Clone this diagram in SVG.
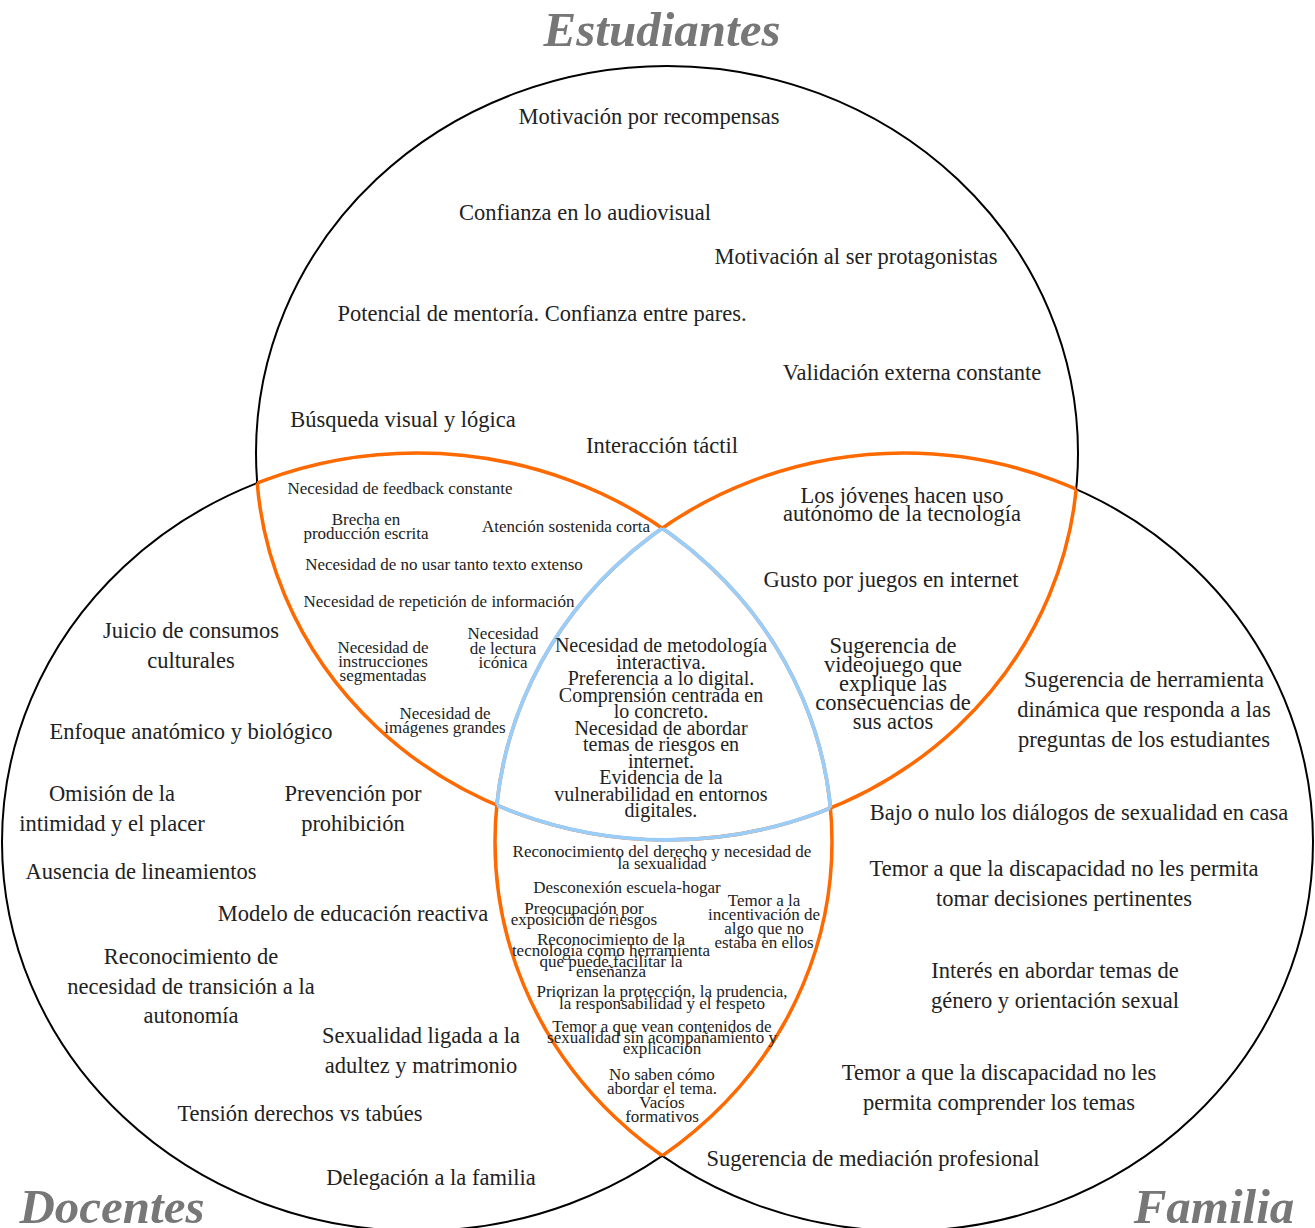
<svg xmlns="http://www.w3.org/2000/svg" xmlns:xlink="http://www.w3.org/1999/xlink" width="1315" height="1228" viewBox="0 0 1315 1228">
<style>
text { font-family: "Liberation Serif", "Times New Roman", serif; fill: #222; text-anchor: middle; }
.l { font-size: 22.5px; }
.s { font-size: 17px; }
.c { font-size: 20px; }
.title { font-size: 49px; font-weight: bold; font-style: italic; fill: #777; }
.k { fill: none; stroke: #000; stroke-width: 2; }
.or { fill: none; stroke: #ff6a00; stroke-width: 3.5; }
.bl { fill: none; stroke: #99cdfa; stroke-width: 3.8; }
</style>
<defs>
<ellipse id="eT" cx="667" cy="453" rx="411" ry="387"/>
<ellipse id="eL" cx="417" cy="842" rx="415" ry="389"/>
<ellipse id="eR" cx="904" cy="842" rx="409" ry="389"/>
<clipPath id="cT"><ellipse cx="667" cy="453" rx="411" ry="387"/></clipPath>
<clipPath id="cL"><ellipse cx="417" cy="842" rx="415" ry="389"/></clipPath>
<clipPath id="cR"><ellipse cx="904" cy="842" rx="409" ry="389"/></clipPath>
<clipPath id="cLR"><ellipse cx="417" cy="842" rx="415" ry="389"/><ellipse cx="904" cy="842" rx="409" ry="389"/></clipPath>
<clipPath id="cTR"><ellipse cx="667" cy="453" rx="411" ry="387"/><ellipse cx="904" cy="842" rx="409" ry="389"/></clipPath>
<clipPath id="cTL"><ellipse cx="667" cy="453" rx="411" ry="387"/><ellipse cx="417" cy="842" rx="415" ry="389"/></clipPath>
</defs>
<rect width="1315" height="1228" fill="#fff"/>
<g id="connectors">
<use xlink:href="#eT" href="#eT" class="k"/>
<use xlink:href="#eL" href="#eL" class="k"/>
<use xlink:href="#eR" href="#eR" class="k"/>
<g clip-path="url(#cLR)"><use xlink:href="#eT" href="#eT" class="or"/></g>
<g clip-path="url(#cTR)"><use xlink:href="#eL" href="#eL" class="or"/></g>
<g clip-path="url(#cTL)"><use xlink:href="#eR" href="#eR" class="or"/></g>
<g clip-path="url(#cL)"><g clip-path="url(#cR)"><use xlink:href="#eT" href="#eT" class="bl"/></g></g>
<g clip-path="url(#cT)"><g clip-path="url(#cR)"><use xlink:href="#eL" href="#eL" class="bl"/></g></g>
<g clip-path="url(#cT)"><g clip-path="url(#cL)"><use xlink:href="#eR" href="#eR" class="bl"/></g></g>
</g>
<g id="titles">
<text class="title" x="662" y="46">Estudiantes</text>
<text class="title" x="112" y="1223">Docentes</text>
<text class="title" x="1214" y="1223">Familia</text>
</g>
<g id="estudiantes" class="l">
<text x="649" y="124">Motivación por recompensas</text>
<text x="585" y="220">Confianza en lo audiovisual</text>
<text x="856" y="264">Motivación al ser protagonistas</text>
<text x="542" y="321">Potencial de mentoría. Confianza entre pares.</text>
<text x="912" y="380">Validación externa constante</text>
<text x="403" y="427">Búsqueda visual y lógica</text>
<text x="662" y="453">Interacción táctil</text>
</g>
<g id="estudiantes-docentes" class="s">
<text x="400" y="494">Necesidad de feedback constante</text>
<text x="366" y="525">Brecha en</text>
<text x="366" y="539">producción escrita</text>
<text x="566" y="532">Atención sostenida corta</text>
<text x="444" y="570">Necesidad de no usar tanto texto extenso</text>
<text x="439" y="607">Necesidad de repetición de información</text>
<text x="383" y="653">Necesidad de</text>
<text x="383" y="667">instrucciones</text>
<text x="383" y="681">segmentadas</text>
<text x="503" y="639">Necesidad</text>
<text x="503" y="654">de lectura</text>
<text x="503" y="668">icónica</text>
<text x="445" y="719">Necesidad de</text>
<text x="445" y="733">imágenes grandes</text>
</g>
<g id="centro" class="c">
<text x="661" y="652">Necesidad de metodología</text>
<text x="661" y="668.5">interactiva.</text>
<text x="661" y="685">Preferencia a lo digital.</text>
<text x="661" y="701.5">Comprensión centrada en</text>
<text x="661" y="718">lo concreto.</text>
<text x="661" y="734.5">Necesidad de abordar</text>
<text x="661" y="751">temas de riesgos en</text>
<text x="661" y="767.5">internet.</text>
<text x="661" y="784">Evidencia de la</text>
<text x="661" y="800.5">vulnerabilidad en entornos</text>
<text x="661" y="817">digitales.</text>
</g>
<g id="estudiantes-familia" class="l">
<text x="902" y="503">Los jóvenes hacen uso</text>
<text x="902" y="521">autónomo de la tecnología</text>
<text x="891" y="587">Gusto por juegos en internet</text>
<text x="893" y="653">Sugerencia de</text>
<text x="893" y="672">videojuego que</text>
<text x="893" y="691">explique las</text>
<text x="893" y="710">consecuencias de</text>
<text x="893" y="729">sus actos</text>
</g>
<g id="docentes" class="l">
<text x="191" y="638">Juicio de consumos</text>
<text x="191" y="668">culturales</text>
<text x="191" y="739">Enfoque anatómico y biológico</text>
<text x="112" y="801">Omisión de la</text>
<text x="112" y="831">intimidad y el placer</text>
<text x="353" y="801">Prevención por</text>
<text x="353" y="831">prohibición</text>
<text x="141" y="879">Ausencia de lineamientos</text>
<text x="353" y="921">Modelo de educación reactiva</text>
<text x="191" y="964">Reconocimiento de</text>
<text x="191" y="994">necesidad de transición a la</text>
<text x="191" y="1023">autonomía</text>
<text x="421" y="1043">Sexualidad ligada a la</text>
<text x="421" y="1073">adultez y matrimonio</text>
<text x="300" y="1121">Tensión derechos vs tabúes</text>
<text x="431" y="1185">Delegación a la familia</text>
</g>
<g id="familia" class="l">
<text x="1144" y="687">Sugerencia de herramienta</text>
<text x="1144" y="717">dinámica que responda a las</text>
<text x="1144" y="747">preguntas de los estudiantes</text>
<text x="1079" y="820">Bajo o nulo los diálogos de sexualidad en casa</text>
<text x="1064" y="876">Temor a que la discapacidad no les permita</text>
<text x="1064" y="906">tomar decisiones pertinentes</text>
<text x="1055" y="978">Interés en abordar temas de</text>
<text x="1055" y="1008">género y orientación sexual</text>
<text x="999" y="1080">Temor a que la discapacidad no les</text>
<text x="999" y="1110">permita comprender los temas</text>
<text x="873" y="1166">Sugerencia de mediación profesional</text>
</g>
<g id="docentes-familia" class="s">
<text x="662" y="857">Reconocimiento del derecho y necesidad de</text>
<text x="662" y="869">la sexualidad</text>
<text x="627" y="893">Desconexión escuela-hogar</text>
<text x="584" y="914">Preocupación por</text>
<text x="584" y="924.5">exposición de riesgos</text>
<text x="764" y="906">Temor a la</text>
<text x="764" y="920">incentivación de</text>
<text x="764" y="934">algo que no</text>
<text x="764" y="948">estaba en ellos</text>
<text x="611" y="945">Reconocimiento de la</text>
<text x="611" y="956">tecnología como herramienta</text>
<text x="611" y="966.5">que puede facilitar la</text>
<text x="611" y="977">enseñanza</text>
<text x="662" y="997">Priorizan la protección, la prudencia,</text>
<text x="662" y="1008.5">la responsabilidad y el respeto</text>
<text x="662" y="1032">Temor a que vean contenidos de</text>
<text x="662" y="1043">sexualidad sin acompañamiento y</text>
<text x="662" y="1054">explicación</text>
<text x="662" y="1080">No saben cómo</text>
<text x="662" y="1094">abordar el tema.</text>
<text x="662" y="1108">Vacíos</text>
<text x="662" y="1122">formativos</text>
</g>
</svg>
